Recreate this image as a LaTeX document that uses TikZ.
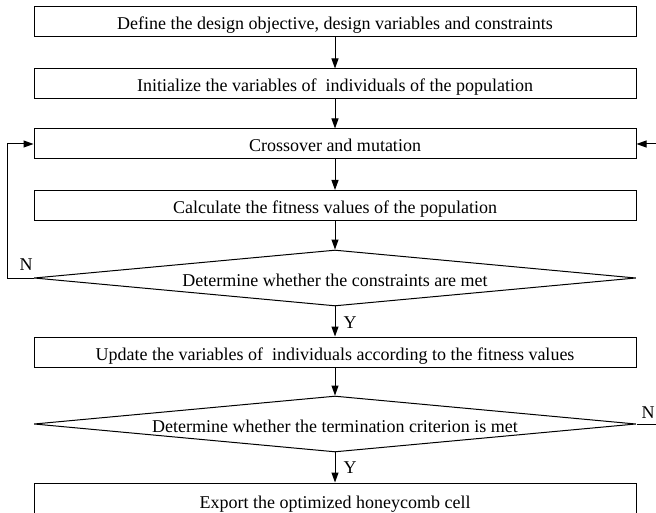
\documentclass[tikz,border=0pt]{standalone}
\usepackage{fontspec}
\setmainfont{Liberation Serif}
\usetikzlibrary{shapes.geometric,arrows.meta}
\begin{document}
\begin{tikzpicture}[x=1pt,y=-1pt,
  box/.style={draw,line width=1pt,minimum width=602pt,minimum height=30pt,inner sep=0pt,text height=17pt,text depth=1pt,font=\fontsize{18}{21}\selectfont},
  dia/.style={draw,line width=1pt,diamond,minimum width=602pt,minimum height=56pt,inner sep=0pt,aspect=10,text height=17pt,text depth=1pt,font=\fontsize{18}{21}\selectfont},
  conn/.style={line width=1pt,-{Triangle[length=10pt,width=7pt]}},
  lab/.style={font=\fontsize{18}{21}\selectfont,inner sep=0pt}]
\useasboundingbox (0,0) rectangle (656,513);
\node[box] (b1) at (335,22) {Define the design objective, design variables and constraints};
\node[box] (b2) at (335,84) {Initialize the variables of\ \ individuals of the population};
\node[box] (b3) at (335,144) {Crossover and mutation};
\node[box] (b4) at (335,205.5) {Calculate the fitness values of the population};
\node[dia] (d1) at (335,278) {\makebox[0pt]{Determine whether the constraints are met}};
\node[box] (b5) at (335,352) {Update the variables of\ \ individuals according to the fitness values};
\node[dia] (d2) at (335,424) {\makebox[0pt]{Determine whether the termination criterion is met}};
\node[box,minimum height=34pt] (b6) at (335,500) {Export the optimized honeycomb cell};
\draw[conn] (b1) -- (b2);
\draw[conn] (b2) -- (b3);
\draw[conn] (b3) -- (b4);
\draw[conn] (b4) -- (d1);
\draw[conn] (d1) -- (b5);
\draw[conn] (b5) -- (d2);
\draw[conn] (d2) -- (b6);
\coordinate (l1) at (7,278);
\coordinate (l2) at (7,144);
\draw[conn] (d1.west) -- (l1) -- (l2) -- (b3.west);
\coordinate (r1) at (659,424);
\coordinate (r2) at (659,144);
\draw[conn] (d2.east) -- (r1) -- (r2) -- (b3.east);
\node[lab] (n1) at (26,265) {N};
\node[lab] (n2) at (648,413) {N};
\node[lab] (y1) at (350,323) {Y};
\node[lab] (y2) at (350,468) {Y};
\end{tikzpicture}
\end{document}
